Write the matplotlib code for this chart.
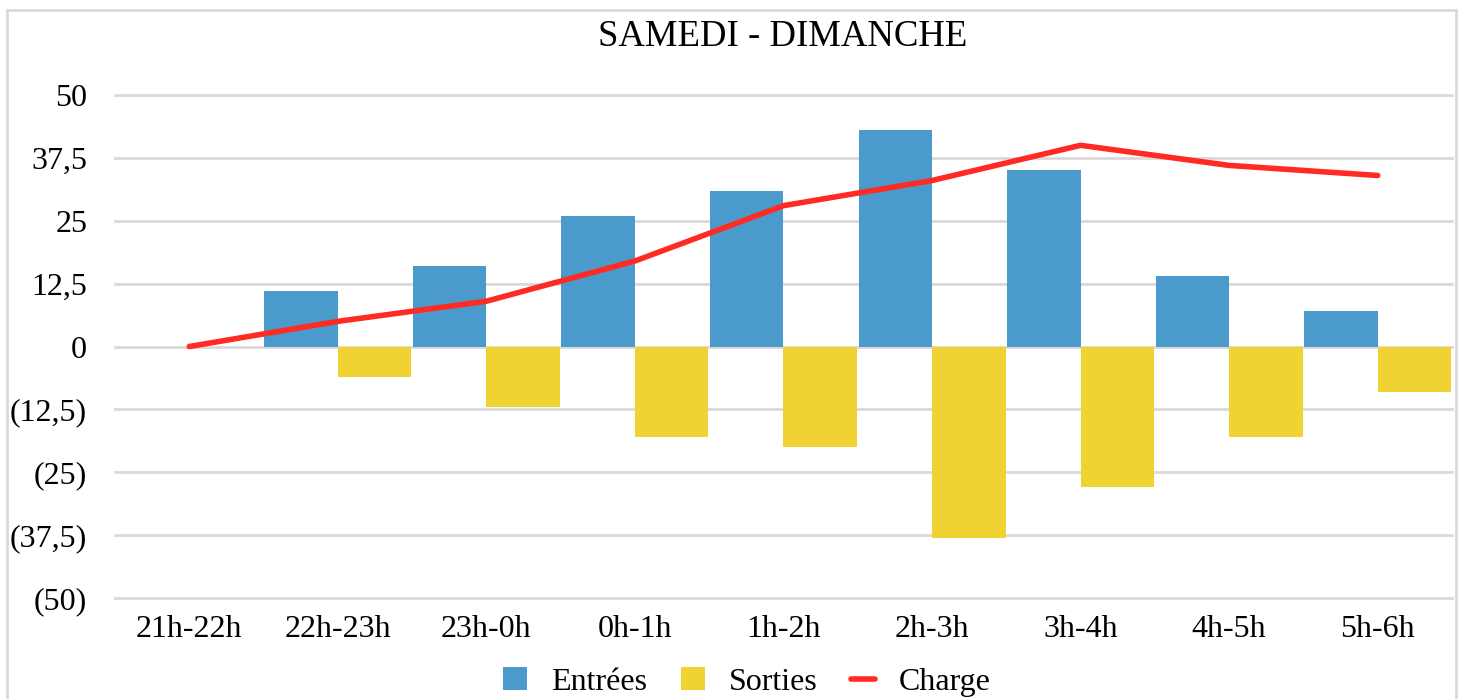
import numpy as np
import matplotlib.pyplot as plt
from matplotlib.patches import Rectangle
from matplotlib.ticker import FixedLocator, FuncFormatter

# DONNEES
tranches = ['21h-22h', '22h-23h', '23h-0h', '0h-1h', '1h-2h', '2h-3h', '3h-4h', '4h-5h', '5h-6h']
entrees = [0, 11, 16, 26, 31, 43, 35, 14, 7]
sorties = [0, -6, -12, -18, -20, -38, -28, -18, -9]
charge = [0, 5, 9, 17, 28, 33, 40, 36, 34]

bleu = '#4A9BCB'
jaune = '#F0D232'
rouge = '#FF2A22'

plt.rcParams['font.family'] = ['Liberation Serif', 'DejaVu Serif']

fig = plt.figure(figsize=(14.65, 6.99), dpi=100)
ax = fig.add_axes([115/1465, 1-598/699, (1452-115)/1465, (598-95)/699])

x = np.arange(len(tranches))
larg = 0.495
b1 = ax.bar(x - larg/2, entrees, width=larg, color=bleu, label='Entrées', zorder=2)
b2 = ax.bar(x + larg/2, sorties, width=larg, color=jaune, label='Sorties', zorder=2)
l1, = ax.plot(x, charge, color=rouge, linewidth=4, solid_capstyle='round', solid_joinstyle='round',
              label='Charge', zorder=3)

ax.set_xlim(-0.5, len(tranches) - 0.5)
ax.set_ylim(-50, 50)
ticks = [-50, -37.5, -25, -12.5, 0, 12.5, 25, 37.5, 50]

def fmt(v, pos):
    s = ('%g' % abs(v)).replace('.', ',')
    return '(' + s + ')' if v < 0 else s

ax.yaxis.set_major_locator(FixedLocator(ticks))
ax.yaxis.set_major_formatter(FuncFormatter(fmt))
ax.set_xticks(x)
ax.set_xticklabels(tranches)
ax.tick_params(axis='both', length=0, labelsize=23, colors='black')
ax.tick_params(axis='y', pad=20)
ax.tick_params(axis='x', pad=12)
ax.grid(axis='y', color='#D9D9D9', linewidth=2, zorder=0)
for g in ax.get_ygridlines():
    g.set_clip_on(False)
ax.set_axisbelow(True)
for s in ax.spines.values():
    s.set_visible(False)

fig.text(783/1465, 1-37/699, 'SAMEDI - DIMANCHE', ha='center', va='center', fontsize=26.5)

leg = fig.legend([b1, b2, l1], ['Entrées', 'Sorties', 'Charge'], loc='center',
                 bbox_to_anchor=(747/1465, 1-682/699), ncol=3, frameon=False,
                 fontsize=23, handlelength=0.75, handleheight=0.75, columnspacing=1.05,
                 handletextpad=0.75, borderpad=0.1)

# cadre du graphique
fig.patches.append(Rectangle((7/1465, -0.05), (1456-7)/1465, 1.05-10/699, transform=fig.transFigure,
                             fill=False, edgecolor='#D9D9D9', linewidth=2))

plt.savefig('out.png', dpi=100)
